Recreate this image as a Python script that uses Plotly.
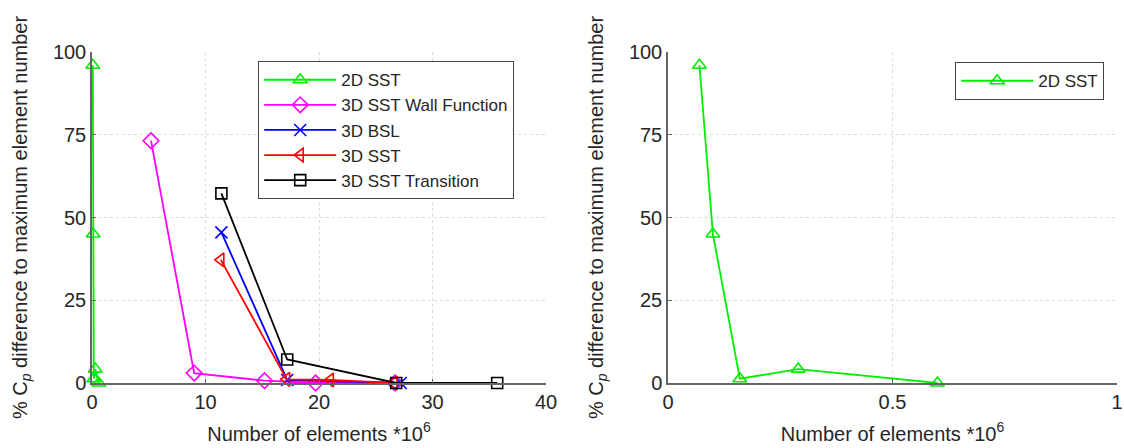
import plotly.graph_objects as go

# Mesh-convergence data (element counts in millions, % Cp difference)
sst2d_x = [0.07, 0.10, 0.16, 0.29, 0.60]
sst2d_y = [96.0, 45.0, 1.3, 4.2, 0.0]

wallfn_x = [5.2, 9.0, 15.2, 19.7, 26.7]
wallfn_y = [73.2, 3.0, 0.7, 0.0, 0.0]

bsl_x = [11.4, 17.2, 27.2]
bsl_y = [45.5, 0.9, 0.0]

sst3d_x = [11.35, 17.15, 21.0, 26.6]
sst3d_y = [37.2, 1.1, 0.9, 0.0]

trans_x = [11.4, 17.2, 26.8, 35.7]
trans_y = [57.3, 7.1, 0.0, 0.0]

FONT = "Liberation Sans, Arial, sans-serif"
TXT = "#262626"

fig = go.Figure()


def add(x, y, name, color, symbol, xa, ya, legend, msize=12):
    fig.add_trace(go.Scatter(
        x=x, y=y, name=name, mode="lines+markers",
        line=dict(color=color, width=1.8),
        marker=dict(symbol=symbol, size=msize, color=color,
                    line=dict(color=color, width=1.6)),
        xaxis=xa, yaxis=ya, legend=legend, cliponaxis=False,
    ))


add(sst2d_x, sst2d_y, "2D SST", "#00ee00", "triangle-up-open", "x", "y", "legend")
add(wallfn_x, wallfn_y, "3D SST Wall Function", "#ff00ff", "diamond-open", "x", "y", "legend")
add(bsl_x, bsl_y, "3D BSL", "#0000ff", "x-thin-open", "x", "y", "legend")
add(sst3d_x, sst3d_y, "3D SST", "#ff0000", "triangle-left-open", "x", "y", "legend")
add(trans_x, trans_y, "3D SST Transition", "#000000", "square-open", "x", "y", "legend", msize=11)

add(sst2d_x, sst2d_y, "2D SST", "#00ee00", "triangle-up-open", "x2", "y2", "legend2")

ydom = [65 / 448, 396 / 448]
ytitle = "% C<sub><i>p</i></sub> difference to maximum element number"
xtitle = "Number of elements *10<sup>6</sup>"
title_font = dict(family=FONT, size=20, color=TXT)

common_axis = dict(
    showline=True, linecolor="#666666", linewidth=1.5,
    showgrid=True, gridcolor="#dcdcdc", griddash="dot", gridwidth=1,
    zeroline=False, ticks="inside", ticklen=4, tickcolor="#666666",
    tickfont=dict(family=FONT, size=20, color=TXT),
    automargin=False, mirror=False, ticklabeloverflow="allow",
)

legend_style = dict(
    xanchor="left", yanchor="top",
    bgcolor="white", bordercolor="#444444", borderwidth=1.2,
    font=dict(family=FONT, size=17, color=TXT), itemwidth=72,
)

fig.update_layout(
    width=1124, height=448,
    margin=dict(l=0, r=0, t=0, b=0),
    paper_bgcolor="white", plot_bgcolor="white",
    font=dict(family=FONT, color=TXT),
    xaxis=dict(domain=[92 / 1124, 546 / 1124], range=[0, 40], dtick=10,
               title=dict(text=xtitle, font=title_font, standoff=15),
               anchor="y", **common_axis),
    yaxis=dict(domain=ydom, range=[0, 100], dtick=25,
               title=dict(text=ytitle, font=title_font, standoff=20),
               anchor="x", **common_axis),
    xaxis2=dict(domain=[668 / 1124, 1117 / 1124], range=[0, 1], dtick=0.5,
                title=dict(text=xtitle, font=title_font, standoff=15),
                anchor="y2", **common_axis),
    yaxis2=dict(domain=ydom, range=[0, 100], dtick=25,
                title=dict(text=ytitle, font=title_font, standoff=20),
                anchor="x2", **common_axis),
    legend=dict(x=258 / 1124, y=1 - 61 / 448, **legend_style),
    legend2=dict(x=955 / 1124, y=1 - 62 / 448, **legend_style),
    showlegend=True,
)

fig.write_html("out.html")
